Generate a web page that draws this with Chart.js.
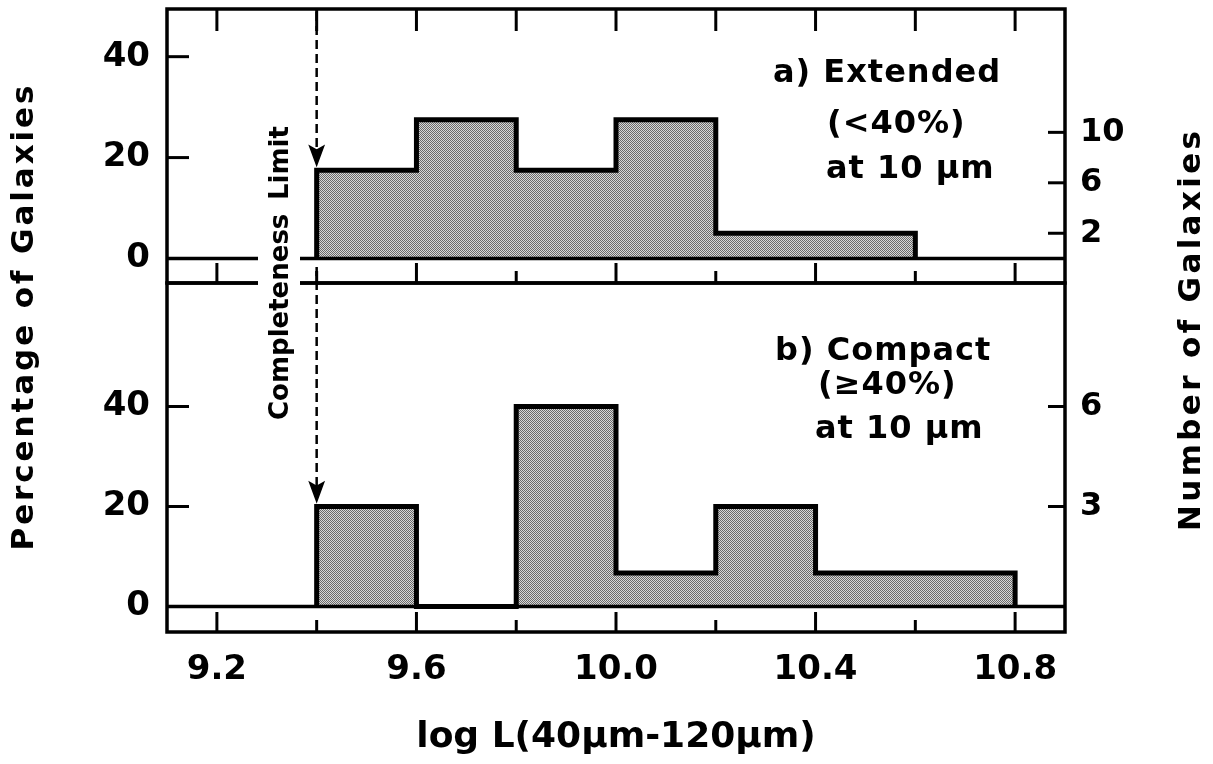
<!DOCTYPE html>
<html><head><meta charset="utf-8">
<script src="https://cdn.jsdelivr.net/npm/chart.js@4.4.1/dist/chart.umd.min.js"></script>
<style>
html,body{margin:0;padding:0;background:#fff;}
#wrap{position:relative;width:1213px;height:764px;overflow:hidden;background:#fff;}
canvas{position:absolute;left:0;top:0;}
</style></head><body>
<div id="wrap"><canvas id="cA" width="1213" height="764"></canvas><canvas id="cB" width="1213" height="764"></canvas></div>
<script>
// ---- data ----
const binEdgesExtended = [9.4, 9.6, 9.8, 10.0, 10.2, 10.4, 10.6];
const extendedPct      = [17.5, 27.5, 17.5, 27.5, 5, 5];
const binEdgesCompact  = [9.4, 9.6, 9.8, 10.0, 10.2, 10.4, 10.6, 10.8];
const compactPct       = [20, 0, 40, 6.7, 20, 6.7, 6.7];
const extendedTotal = 40;   // galaxies (right axis scale)
const compactTotal  = 15;
const xTickLabels   = [9.2, 9.6, 10.0, 10.4, 10.8];
const xAllTicks     = [9.2, 9.4, 9.6, 9.8, 10.0, 10.2, 10.4, 10.6, 10.8];
const pctTicks      = [0, 20, 40];
const extendedCountTicks = [2, 6, 10];
const compactCountTicks  = [3, 6];
const completenessLimit  = 9.4;
const xRange   = [9.1, 10.9];
const topYRange = [-4.86, 49.45];
const botYRange = [-5.1, 64.7];

const FONT = "'DejaVu Sans', sans-serif";
Chart.defaults.font.family = FONT;
Chart.defaults.font.weight = 'bold';
Chart.defaults.color = '#000';

function stepPoints(edges, vals){
  const pts = [{x: edges[0], y: 0}];
  vals.forEach((v, i) => pts.push({x: edges[i], y: v}));
  pts.push({x: edges[edges.length - 1], y: 0});
  return pts;
}
function makePattern(c1, c2){
  const p = document.createElement('canvas'); p.width = 2; p.height = 2;
  const g = p.getContext('2d');
  g.fillStyle = c2; g.fillRect(0, 0, 2, 2);
  g.fillStyle = c1; g.fillRect(0, 0, 1, 1); g.fillRect(1, 1, 1, 1);
  return g.createPattern(p, 'repeat');
}
function line(ctx, x1, y1, x2, y2){ ctx.beginPath(); ctx.moveTo(x1, y1); ctx.lineTo(x2, y2); ctx.stroke(); }
function fitText(ctx, text, cx, cy, length, font){
  ctx.save();
  ctx.font = font; ctx.letterSpacing = '0px';
  const w = ctx.measureText(text).width;
  const sp = Math.max(0, (length - w) / (text.length - 1));
  ctx.letterSpacing = sp + 'px';
  ctx.textAlign = 'left'; ctx.textBaseline = 'middle'; ctx.fillStyle = '#000';
  ctx.translate(cx, cy); ctx.rotate(-Math.PI / 2);
  ctx.fillText(text, -length / 2, 0);
  ctx.restore();
}

function framePlugin(id, o){
  return {
    id,
    afterDatasetsDraw(chart){
      const {ctx, chartArea: a, scales} = chart;
      const x = scales.x, y = scales.y, y2 = scales.y2;
      ctx.save();
      ctx.strokeStyle = '#000'; ctx.lineCap = 'butt';
      ctx.lineWidth = 3.5;
      const y0 = y.getPixelForValue(0);
      line(ctx, a.left, y0, a.right, y0);
      ctx.lineWidth = 3;
      o.leftTicks.forEach(v => { const p = y.getPixelForValue(v); line(ctx, a.left, p, a.left + 22, p); });
      o.rightTicks.forEach(v => { const p = y2.getPixelForValue(v); line(ctx, a.right - 17, p, a.right, p); });
      xAllTicks.forEach(v => {
        const px = x.getPixelForValue(v);
        const major = xTickLabels.includes(v);
        line(ctx, px, a.bottom, px, a.bottom - (major ? 20 : 12));
        if (o.topTicks) line(ctx, px, a.top, px, a.top + 22);
      });
      ctx.lineWidth = 3.5;
      ctx.strokeRect(a.left, a.top, a.right - a.left, a.bottom - a.top);
      // completeness arrow
      const ax = x.getPixelForValue(completenessLimit);
      const tip = y.getPixelForValue(o.firstBar) - 5;
      const start = o.arrowFromTop ? a.top + 3 : a.top - 16;
      ctx.lineWidth = 2.5; ctx.setLineDash([9, 5]);
      line(ctx, ax, start, ax, tip - 15);
      ctx.setLineDash([]);
      ctx.fillStyle = '#000';
      ctx.beginPath(); ctx.moveTo(ax, tip); ctx.lineTo(ax - 7, tip - 19); ctx.lineTo(ax, tip - 15); ctx.lineTo(ax + 7, tip - 19); ctx.closePath(); ctx.fill();
      ctx.lineWidth = 1.5; ctx.stroke();
      // annotation lines
      ctx.font = 'bold 32px ' + FONT; ctx.textBaseline = 'middle'; ctx.textAlign = 'left';
      ctx.letterSpacing = '1px';
      o.labels.forEach(l => ctx.fillText(l[0], l[1], l[2]));
      ctx.restore();
    }
  };
}

const overlayPlugin = {
  id: 'overlay',
  afterDraw(chart){
    const ctx = chart.ctx;
    ctx.save();
    // gap behind vertical label
    ctx.fillStyle = '#fff';
    ctx.fillRect(258, 124, 42, 300);
    ctx.restore();
    fitText(ctx, 'Completeness', 281, 325, 190, 'bold 26px ' + FONT);
    fitText(ctx, 'Limit', 281, 164, 72, 'bold 26px ' + FONT);
    // y titles
    fitText(ctx, 'Percentage of Galaxies', 25, 318, 465, 'bold 31px ' + FONT);
    fitText(ctx, 'Number of Galaxies', 1192, 331, 400, 'bold 31px ' + FONT);
  }
};

function histDataset(ctx, edges, vals){
  return {
    data: stepPoints(edges, vals),
    stepped: true, fill: 'origin', tension: 0,
    borderColor: '#000', borderWidth: 5, borderJoinStyle: 'miter', borderCapStyle: 'butt',
    backgroundColor: makePattern('#6a6a6a', '#d8d8d8'),
    pointRadius: 0
  };
}

function yAxes(range, ticksPct, perGalaxy, countTicks){
  return {
    y: {
      type: 'linear', position: 'left', min: range[0], max: range[1],
      afterFit: s => { s.width = 167; s.paddingTop = 0; s.paddingBottom = 0; },
      afterBuildTicks: s => { s.ticks = ticksPct.map(v => ({value: v})); },
      grid: {display: false, drawTicks: false}, border: {display: false},
      ticks: {padding: 17, font: {size: 34, weight: 'bold'}, color: '#000', autoSkip: false}
    },
    y2: {
      type: 'linear', position: 'right', min: range[0] / perGalaxy, max: range[1] / perGalaxy,
      afterFit: s => { s.width = 148; s.paddingTop = 0; s.paddingBottom = 0; },
      afterBuildTicks: s => { s.ticks = countTicks.map(v => ({value: v})); },
      grid: {display: false, drawTicks: false}, border: {display: false},
      ticks: {padding: 15, font: {size: 32, weight: 'bold'}, color: '#000', autoSkip: false}
    }
  };
}

const ctxA = document.getElementById('cA').getContext('2d');
new Chart(ctxA, {
  type: 'line',
  data: {datasets: [histDataset(ctxA, binEdgesExtended, extendedPct)]},
  options: {
    responsive: false, animation: false,
    layout: {padding: {top: 9, bottom: 764 - 283, left: 0, right: 0}},
    plugins: {legend: {display: false}, tooltip: {enabled: false}},
    scales: Object.assign({
      x: {type: 'linear', min: xRange[0], max: xRange[1], display: false}
    }, yAxes(topYRange, pctTicks, 100 / extendedTotal, extendedCountTicks))
  },
  plugins: [framePlugin('frameA', {
    leftTicks: [20, 40], rightTicks: extendedCountTicks, topTicks: true,
    firstBar: extendedPct[0], arrowFromTop: true,
    labels: [['a) Extended', 773, 74], ['(<40%)', 827, 125], ['at 10 \u00b5m', 826, 170]]
  })]
});

const ctxB = document.getElementById('cB').getContext('2d');
new Chart(ctxB, {
  type: 'line',
  data: {datasets: [histDataset(ctxB, binEdgesCompact, compactPct)]},
  options: {
    responsive: false, animation: false,
    layout: {padding: {top: 283, bottom: 0, left: 0, right: 0}},
    plugins: {legend: {display: false}, tooltip: {enabled: false}},
    scales: Object.assign({
      x: {
        type: 'linear', position: 'bottom', min: xRange[0], max: xRange[1],
        afterFit: s => { s.height = 132; s.paddingLeft = 0; s.paddingRight = 0; },
        afterBuildTicks: s => { s.ticks = xTickLabels.map(v => ({value: v})); },
        grid: {display: false, drawTicks: false}, border: {display: false},
        ticks: {padding: 18, font: {size: 34, weight: 'bold'}, color: '#000', autoSkip: false, maxRotation: 0, callback: v => v.toFixed(1)},
        title: {display: true, text: 'log L(40\u00b5m-120\u00b5m)', font: {size: 36, weight: 'bold'}, color: '#000', padding: {top: 0, bottom: 5}}
      }
    }, yAxes(botYRange, pctTicks, 100 / compactTotal, compactCountTicks))
  },
  plugins: [framePlugin('frameB', {
    leftTicks: [20, 40], rightTicks: compactCountTicks, topTicks: false,
    firstBar: compactPct[0], arrowFromTop: false,
    labels: [['b) Compact', 775, 352], ['(\u226540%)', 818, 386], ['at 10 \u00b5m', 815, 430]]
  }), overlayPlugin]
});
</script>
</body></html>
